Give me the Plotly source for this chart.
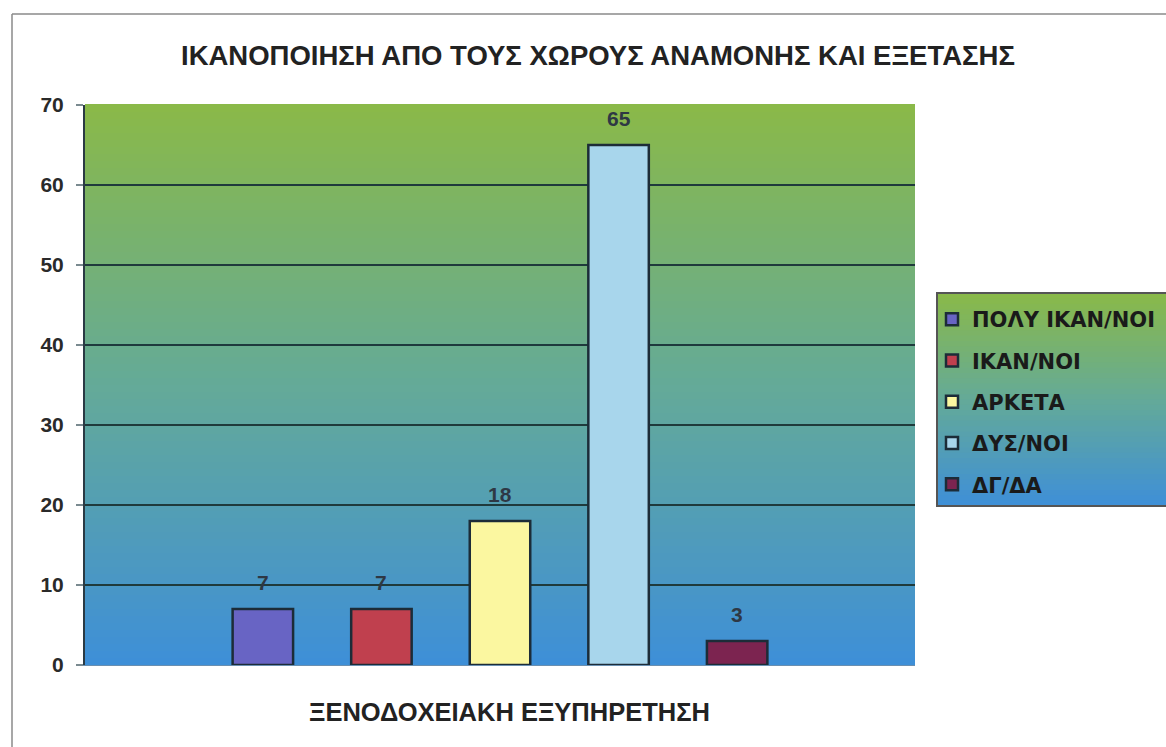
import plotly.graph_objects as go

# Survey answers and counts
categories = ["ΠΟΛΥ ΙΚΑΝ/ΝΟΙ", "ΙΚΑΝ/ΝΟΙ", "ΑΡΚΕΤΑ", "ΔΥΣ/ΝΟΙ", "ΔΓ/ΔΑ"]
values = [7, 7, 18, 65, 3]
bar_colors = ["#6864c4", "#c0404e", "#fbf7a0", "#a8d6ec", "#7c2450"]
y_ticks = [0, 10, 20, 30, 40, 50, 60, 70]

title_text = "ΙΚΑΝΟΠΟΙΗΣΗ ΑΠΟ ΤΟΥΣ ΧΩΡΟΥΣ ΑΝΑΜΟΝΗΣ ΚΑΙ ΕΞΕΤΑΣΗΣ"
x_title = "ΞΕΝΟΔΟΧΕΙΑΚΗ ΕΞΥΠΗΡΕΤΗΣΗ"

W, H = 1166, 747
L, R, T, B = 85, 915, 105, 665  # plot area in pixels


def px_x(p):
    return (p - L) / (R - L)


def px_y(p):
    return (B - p) / (B - T)


def blend(c0, c1, t):
    return "rgb(%d,%d,%d)" % tuple(round(a + (b - a) * t) for a, b in zip(c0, c1))


top_c = (138, 185, 72)
mid_c = (100, 170, 152)
bot_c = (62, 143, 216)


def grad(t):
    # t = 0 at bottom, 1 at top
    if t < 0.5:
        return blend(bot_c, mid_c, t / 0.5)
    return blend(mid_c, top_c, (t - 0.5) / 0.5)


fig = go.Figure()

for i, (name, v, c) in enumerate(zip(categories, values, bar_colors)):
    fig.add_trace(go.Bar(
        x=[i], y=[v], name=name, width=0.51,
        marker=dict(color=c, line=dict(color="#1c2c38", width=2.5)),
        legendgroup=name,
        hoverinfo="skip",
    ))

shapes = []
# vertical gradient behind the plot area
n = 80
for k in range(n):
    shapes.append(dict(
        type="rect", xref="paper", yref="paper", layer="below",
        x0=0, x1=1, y0=k / n, y1=(k + 1) / n + 0.002,
        fillcolor=grad((k + 0.5) / n), line=dict(width=0),
    ))

# gradient box behind the legend
lx0, lx1, ly0, ly1 = 937, 1170, 293, 506
m = 40
for k in range(m):
    t = (k + 0.5) / m
    shapes.append(dict(
        type="rect", xref="paper", yref="paper", layer="below",
        x0=px_x(lx0), x1=px_x(lx1),
        y0=px_y(ly1) + (px_y(ly0) - px_y(ly1)) * k / m,
        y1=px_y(ly1) + (px_y(ly0) - px_y(ly1)) * (k + 1) / m + 0.002,
        fillcolor=grad(t), line=dict(width=0),
    ))
shapes.append(dict(
    type="rect", xref="paper", yref="paper", layer="above",
    x0=px_x(lx0), x1=px_x(lx1), y0=px_y(ly1), y1=px_y(ly0),
    line=dict(color="#555555", width=2), fillcolor="rgba(0,0,0,0)",
))

# outer chart frame
shapes.append(dict(type="line", xref="paper", yref="paper",
                   x0=px_x(12), x1=px_x(12), y0=px_y(14), y1=px_y(760),
                   line=dict(color="#8a8a8a", width=1.5)))
shapes.append(dict(type="line", xref="paper", yref="paper",
                   x0=px_x(12), x1=px_x(1170), y0=px_y(14), y1=px_y(14),
                   line=dict(color="#8a8a8a", width=1.5)))

annotations = []
# value labels above the bars
for i, v in enumerate(values):
    annotations.append(dict(
        x=i, y=v, xref="x", yref="y", text="<b>%d</b>" % v,
        showarrow=False, yshift=27, xanchor="center", yanchor="middle",
        font=dict(family="Liberation Sans, Arial", size=21, color="#2e3844"),
    ))

annotations.append(dict(
    x=px_x(598), y=px_y(55), xref="paper", yref="paper",
    xanchor="center", yanchor="middle",
    text="<b>%s</b>" % title_text, showarrow=False,
    font=dict(family="Liberation Sans, Arial", size=27.5, color="#222222"),
))
annotations.append(dict(
    x=px_x(509), y=px_y(712), xref="paper", yref="paper",
    xanchor="center", yanchor="middle",
    text="<b>%s</b>" % x_title, showarrow=False,
    font=dict(family="Liberation Sans, Arial", size=25.5, color="#222222"),
))

fig.update_layout(
    width=W, height=H,
    margin=dict(l=L, r=W - R, t=T, b=H - B, pad=0, autoexpand=False),
    paper_bgcolor="white",
    plot_bgcolor="rgba(0,0,0,0)",
    barmode="overlay",
    showlegend=True,
    legend=dict(
        x=px_x(932), y=px_y(299), xanchor="left", yanchor="top",
        bgcolor="rgba(0,0,0,0)", borderwidth=0,
        traceorder="grouped", tracegroupgap=11,
        font=dict(family="DejaVu Sans, Liberation Sans", size=21, color="#1a1a1a", weight="bold"),
    ),
    xaxis=dict(range=[-1.5, 5.5], showticklabels=False, showgrid=False,
               zeroline=False, ticks="", fixedrange=True,
               showline=True, linecolor="#6a8fb0", linewidth=1),
    yaxis=dict(range=[0, 70], tickvals=y_ticks, showgrid=True,
               gridcolor="#1f3a3c", gridwidth=1.5, zeroline=False,
               showline=True, linecolor="#2a3a44", linewidth=2,
               ticks="outside", ticklen=7, tickcolor="#7a8a90", tickwidth=1.5,
               tickfont=dict(family="Liberation Sans, Arial", size=21, color="#2a2a2a",
                             weight="bold"),
               ticklabelstandoff=8),
    shapes=shapes,
    annotations=annotations,
)

fig.write_html("out.html")
